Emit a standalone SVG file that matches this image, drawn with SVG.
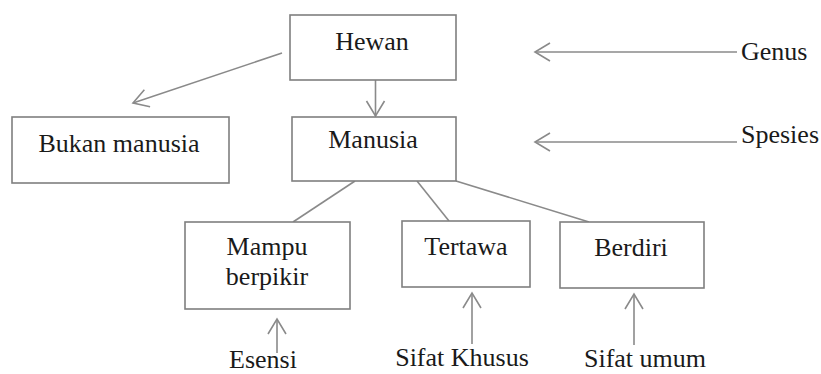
<svg xmlns="http://www.w3.org/2000/svg" width="821" height="374" viewBox="0 0 821 374">
  <style>
    .box { fill: #ffffff; stroke: #7f7f7f; stroke-width: 1.6; }
    .lbl { font-family: 'Liberation Serif', 'Times New Roman', serif; font-size: 26px; fill: #1a1a1a; }
    .mid { text-anchor: middle; }
    .link { fill: none; stroke: #8a8a8a; stroke-width: 1.6; }
    .arrow { fill: none; stroke: #8a8a8a; stroke-width: 1.6; marker-end: url(#open); }
  </style>
  <defs>
    <!-- open V-shaped arrowhead shared by all pointing connectors -->
    <marker id="open" markerUnits="userSpaceOnUse" markerWidth="20" markerHeight="22" refX="17" refY="11" orient="auto">
      <path d="M2,2 L17,11 L2,20" fill="none" stroke="#8a8a8a" stroke-width="1.6"/>
    </marker>
  </defs>
  <rect width="821" height="374" fill="#ffffff"/>

  <g id="connectors">
    <line class="arrow" x1="282" y1="53" x2="133" y2="103"/>
    <line class="arrow" x1="375.5" y1="80" x2="375.5" y2="116"/>
    <line class="arrow" x1="737" y1="52" x2="535" y2="52"/>
    <line class="arrow" x1="737" y1="142" x2="535" y2="142"/>
    <line class="link" x1="355" y1="181" x2="293" y2="222"/>
    <line class="link" x1="417" y1="181" x2="449" y2="221"/>
    <line class="link" x1="456" y1="181" x2="589" y2="222"/>
    <line class="arrow" x1="277" y1="353" x2="277" y2="319"/>
    <line class="arrow" x1="472" y1="344" x2="472" y2="293"/>
    <line class="arrow" x1="634" y1="345" x2="634" y2="294"/>
  </g>

  <g id="hewan">
    <rect class="box" x="290" y="15" width="166" height="65"/>
    <text class="lbl mid" x="372" y="50">Hewan</text>
  </g>
  <g id="bukan-manusia">
    <rect class="box" x="12" y="117" width="217" height="66"/>
    <text class="lbl mid" x="119" y="152">Bukan manusia</text>
  </g>
  <g id="manusia">
    <rect class="box" x="292" y="117" width="164" height="64"/>
    <text class="lbl mid" x="373" y="148">Manusia</text>
  </g>
  <g id="mampu-berpikir">
    <rect class="box" x="185" y="222" width="165" height="87"/>
    <text class="lbl mid" x="267" y="255">Mampu</text>
    <text class="lbl mid" x="267" y="285">berpikir</text>
  </g>
  <g id="tertawa">
    <rect class="box" x="402" y="221" width="128" height="66"/>
    <text class="lbl mid" x="466" y="255">Tertawa</text>
  </g>
  <g id="berdiri">
    <rect class="box" x="560" y="222" width="144" height="66"/>
    <text class="lbl mid" x="631" y="256">Berdiri</text>
  </g>

  <g id="genus">
    <text class="lbl" x="741" y="60">Genus</text>
  </g>
  <g id="spesies">
    <text class="lbl" x="741" y="143">Spesies</text>
  </g>
  <g id="esensi">
    <text class="lbl mid" x="263" y="368">Esensi</text>
  </g>
  <g id="sifat-khusus">
    <text class="lbl mid" x="462" y="366">Sifat Khusus</text>
  </g>
  <g id="sifat-umum">
    <text class="lbl mid" x="645" y="367">Sifat umum</text>
  </g>
</svg>
